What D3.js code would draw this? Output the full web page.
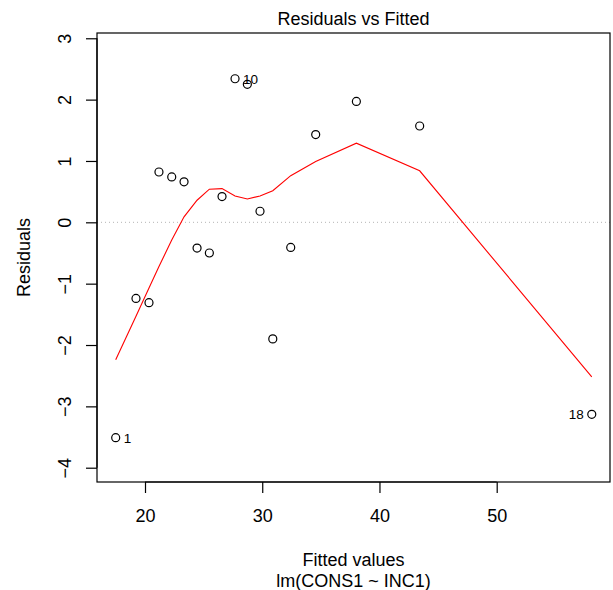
<!DOCTYPE html>
<html>
<head>
<meta charset="utf-8">
<script src="https://cdn.jsdelivr.net/npm/d3@7"></script>
<style>
  body { margin: 0; background: #fff; }
  svg { display: block; font-family: "Liberation Sans", Arial, sans-serif; }
</style>
</head>
<body>
<svg id="chart" width="613" height="590"></svg>
<script>
// fitted values and residuals of lm(CONS1 ~ INC1), in observation order
const fitted    = [17.50, 19.23, 20.34, 21.19, 22.28, 23.33, 24.44, 25.49, 26.57, 27.68,
                   28.73, 29.81, 30.90, 32.43, 34.56, 38.03, 43.43, 58.11];
const residuals = [-3.51, -1.24, -1.31, 0.82, 0.74, 0.66, -0.42, -0.50, 0.42, 2.34,
                   2.25, 0.18, -1.90, -0.41, 1.43, 1.97, 1.57, -3.13];
// the red smoother, one value per fitted value
const smooth    = [-2.24, -1.53, -1.07, -0.72, -0.29, 0.09, 0.36, 0.54, 0.55, 0.43,
                   0.38, 0.43, 0.515, 0.76, 0.99, 1.29, 0.84, -2.52];
const labelled  = [1, 10, 18]; // observations that get their number printed
const xTicks = [20, 30, 40, 50];
const yTicks = [-4, -3, -2, -1, 0, 1, 2, 3];

(function() {
var svg = d3.select("#chart");
var pLeft = 97, pRight = 610, pTop = 33, pBottom = 482;

var x = d3.scaleLinear().domain([15.905, 59.665]).range([pLeft, pRight]);
var y = d3.scaleLinear().domain([-4.233, 3.086]).range([pBottom, pTop]);

var obs = fitted.map(function(f, i) {
  return { id: i + 1, fx: f, r: residuals[i], s: smooth[i] };
});

// dotted zero line
svg.append("line")
    .attr("x1", pLeft).attr("x2", pRight)
    .attr("y1", y(0)).attr("y2", y(0))
    .attr("stroke", "#b5b5b5")
    .attr("stroke-width", 1)
    .attr("stroke-dasharray", "1,3");

// axes, R style: outward ticks, labels on the side
var xAxis = svg.append("g")
    .attr("transform", "translate(0," + pBottom + ")")
    .call(d3.axisBottom(x).tickValues(xTicks).tickSize(11).tickSizeOuter(0).tickPadding(5));
var yAxis = svg.append("g")
    .attr("transform", "translate(" + pLeft + ",0)")
    .call(d3.axisLeft(y).tickValues(yTicks).tickSize(11).tickSizeOuter(0));

[xAxis, yAxis].forEach(function(a) {
  a.selectAll("path").remove();
  a.selectAll("line").attr("stroke", "#000").attr("stroke-width", 1.2);
  a.selectAll("text").attr("font-size", 18).attr("fill", "#000")
      .attr("font-family", "Liberation Sans, Arial, sans-serif");
});
xAxis.append("line").attr("x1", x(20)).attr("x2", x(50)).attr("stroke", "#000").attr("stroke-width", 1.2);
xAxis.selectAll(".tick text").attr("dy", null).attr("y", 40);
yAxis.append("line").attr("y1", y(-4)).attr("y2", y(3)).attr("stroke", "#000").attr("stroke-width", 1.2);
yAxis.selectAll(".tick text")
    .attr("text-anchor", "middle")
    .attr("dy", null).attr("x", null)
    .attr("transform", "translate(-26,0) rotate(-90)")
    .text(function(d) { return d < 0 ? "\u2212" + Math.abs(d) : d; });

// plot frame
svg.append("rect")
    .attr("x", pLeft).attr("y", pTop)
    .attr("width", pRight - pLeft).attr("height", pBottom - pTop)
    .attr("fill", "none").attr("stroke", "#000").attr("stroke-width", 1.2);

// red smoother
var line = d3.line()
    .x(function(d) { return x(d.fx); })
    .y(function(d) { return y(d.s); });
svg.append("path")
    .datum(obs)
    .attr("d", line)
    .attr("fill", "none")
    .attr("stroke", "#ff0000")
    .attr("stroke-width", 1.1);

// points
svg.append("g").selectAll("circle")
    .data(obs)
  .enter().append("circle")
    .attr("cx", function(d) { return x(d.fx); })
    .attr("cy", function(d) { return y(d.r); })
    .attr("r", 4)
    .attr("fill", "none")
    .attr("stroke", "#000")
    .attr("stroke-width", 1.2);

// point labels: right of the point in the left half, left of it otherwise
var mid = (d3.min(fitted) + d3.max(fitted)) / 2;
svg.append("g").selectAll("text")
    .data(obs.filter(function(d) { return labelled.includes(d.id); }))
  .enter().append("text")
    .attr("x", function(d) { return x(d.fx) + (d.fx < mid ? 8 : -8); })
    .attr("y", function(d) { return y(d.r) + 5; })
    .attr("text-anchor", function(d) { return d.fx < mid ? "start" : "end"; })
    .attr("font-size", 13.5)
    .text(function(d) { return d.id; });

// titles
svg.append("text")
    .attr("x", (pLeft + pRight) / 2).attr("y", 24.5)
    .attr("text-anchor", "middle").attr("font-size", 18)
    .text("Residuals vs Fitted");
svg.append("text")
    .attr("x", (pLeft + pRight) / 2).attr("y", 565.5)
    .attr("text-anchor", "middle").attr("font-size", 18)
    .text("Fitted values");
svg.append("text")
    .attr("x", (pLeft + pRight) / 2).attr("y", 587)
    .attr("text-anchor", "middle").attr("font-size", 18)
    .text("lm(CONS1 ~ INC1)");
svg.append("text")
    .attr("transform", "translate(29.5," + ((pTop + pBottom) / 2) + ") rotate(-90)")
    .attr("text-anchor", "middle").attr("font-size", 18)
    .text("Residuals");
})();
</script>
</body>
</html>
